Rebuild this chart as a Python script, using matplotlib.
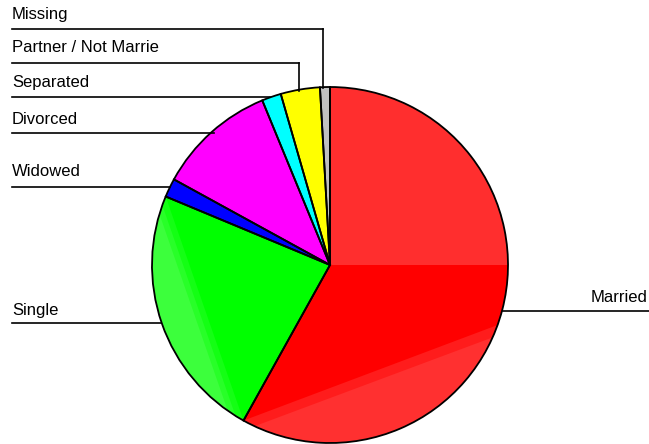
import numpy as np
import matplotlib.pyplot as plt
from matplotlib.patches import Wedge, Polygon

categories = ["Married", "Single", "Widowed", "Divorced", "Separated",
              "Partner / Not Marrie", "Missing"]
shares = [58.06, 23.2, 1.7, 10.8, 1.75, 3.56, 0.9]
colors = ["#ff0000", "#00ff00", "#0000ff", "#ff00ff", "#00ffff", "#ffff00", "#c0c0c0"]

W, H = 649, 444
cx, cy, r = 330, H - 265, 178

fig = plt.figure(figsize=(W / 100, H / 100), dpi=100)
ax = fig.add_axes([0, 0, 1, 1])

# filled slices first, outlines drawn on top after the shading
wedges, _ = ax.pie(shares, colors=colors, startangle=90, counterclock=False,
                   center=(cx, cy), radius=r, frame=True,
                   wedgeprops=dict(edgecolor="none", linewidth=0))

def segment(t1, t2, color):
    # area between the arc t1..t2 and its chord
    t = np.radians(np.linspace(t1, t2, 80))
    pts = np.column_stack([cx + r * np.cos(t), cy + r * np.sin(t)])
    ax.add_patch(Polygon(pts, closed=True, facecolor=color, edgecolor="none", zorder=1.5))

# lighter banding on the big slices
married, single = wedges[0], wedges[1]
ax.add_patch(Wedge((cx, cy), r, 0, married.theta2, facecolor="#ff2e2e",
                   edgecolor="none", zorder=1.4))
segment(married.theta1, -19.7, "#ff1c1c")
segment(married.theta1 + 4, -24, "#ff3030")
for k, c in enumerate(["#14ff14", "#28ff28", "#3cff3c"]):
    segment(single.theta1 + 3 * k, single.theta2 - 3 * k, c)

ax.pie(shares, colors=["none"] * len(shares), startangle=90, counterclock=False,
       center=(cx, cy), radius=r, frame=True,
       wedgeprops=dict(edgecolor="black", linewidth=1.3, zorder=3))

ax.set_xlim(0, W)
ax.set_ylim(0, H)
ax.set_aspect("auto")
ax.axis("off")

# label text and leader lines (pixel coords measured from the top)
font = dict(family=["Liberation Sans", "DejaVu Sans"], fontsize=12, color="black")
lw = 1.2

def left_label(text, y_text, y_line, x_end, y_drop=None):
    ax.text(12, H - y_text, text, ha="left", va="center", **font)
    ax.plot([12, x_end], [H - y_line, H - y_line], color="black", lw=lw)
    if y_drop is not None:
        ax.plot([x_end, x_end], [H - y_line, H - y_drop], color="black", lw=lw)

left_label(categories[6], 15, 29, 323, 88)
left_label(categories[5], 48, 63, 299, 91)
left_label(categories[4], 83, 97, 270)
left_label(categories[3], 119, 133, 214)
left_label(categories[2], 172, 187, 170)
left_label(categories[1], 310, 323, 161)

ax.text(648, H - 298, categories[0], ha="right", va="center", **font)
ax.plot([503, 649], [H - 311, H - 311], color="black", lw=lw)

fig.savefig("out.png", dpi=100)
